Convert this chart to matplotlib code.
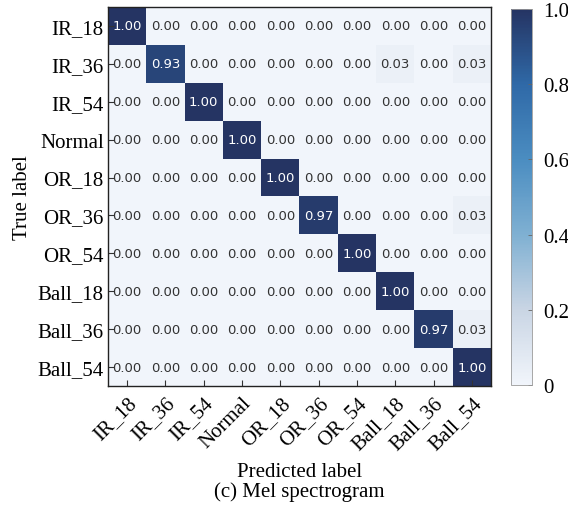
import numpy as np
import matplotlib
matplotlib.use("Agg")
import matplotlib.pyplot as plt
from matplotlib.colors import LinearSegmentedColormap

classes = ["IR_18", "IR_36", "IR_54", "Normal", "OR_18", "OR_36", "OR_54",
           "Ball_18", "Ball_36", "Ball_54"]

# normalized confusion matrix (rows = true, cols = predicted)
cm = np.array([
    [1.00, 0.00, 0.00, 0.00, 0.00, 0.00, 0.00, 0.00, 0.00, 0.00],
    [0.00, 0.93, 0.00, 0.00, 0.00, 0.00, 0.00, 0.03, 0.00, 0.03],
    [0.00, 0.00, 1.00, 0.00, 0.00, 0.00, 0.00, 0.00, 0.00, 0.00],
    [0.00, 0.00, 0.00, 1.00, 0.00, 0.00, 0.00, 0.00, 0.00, 0.00],
    [0.00, 0.00, 0.00, 0.00, 1.00, 0.00, 0.00, 0.00, 0.00, 0.00],
    [0.00, 0.00, 0.00, 0.00, 0.00, 0.97, 0.00, 0.00, 0.00, 0.03],
    [0.00, 0.00, 0.00, 0.00, 0.00, 0.00, 1.00, 0.00, 0.00, 0.00],
    [0.00, 0.00, 0.00, 0.00, 0.00, 0.00, 0.00, 1.00, 0.00, 0.00],
    [0.00, 0.00, 0.00, 0.00, 0.00, 0.00, 0.00, 0.00, 0.97, 0.03],
    [0.00, 0.00, 0.00, 0.00, 0.00, 0.00, 0.00, 0.00, 0.00, 1.00],
])

cbar_ticks = [0, 0.2, 0.4, 0.6, 0.8, 1.0]
cbar_labels = ["0", "0.2", "0.4", "0.6", "0.8", "1.0"]

serif = "Liberation Serif"
cmap = LinearSegmentedColormap.from_list(
    "mel", ["#f1f5fb", "#c9d5e4", "#7fb0d2", "#4b8dc1", "#2f69a7", "#253463"])

fig = plt.figure(figsize=(5.68, 5.10), dpi=100)
ax = fig.add_axes([108 / 568, 1 - 387 / 510, 383 / 568, 379 / 510])
cax = fig.add_axes([511 / 568, 1 - 386 / 510, 21 / 568, 376 / 510])

im = ax.imshow(cm, cmap=cmap, vmin=0, vmax=1, interpolation="nearest", aspect="auto")

# cell annotations
for i in range(cm.shape[0]):
    for j in range(cm.shape[1]):
        v = cm[i, j]
        ax.text(j, i, f"{v:.2f}", ha="center", va="center", fontsize=9.5,
                color="white" if v > 0.5 else "#333333")

n = len(classes)
ax.set_xticks(range(n))
ax.set_yticks(range(n))
ax.set_xticklabels(classes, rotation=45, ha="right", rotation_mode="anchor",
                   fontsize=15, family=serif)
ax.set_yticklabels(classes, fontsize=15, family=serif)
ax.tick_params(direction="in", length=4, width=0.8, color="#333333", pad=3)
ax.tick_params(axis="x", pad=5)
for s in ax.spines.values():
    s.set_linewidth(1.0)
    s.set_color("#222222")

ax.set_ylabel("True label", fontsize=15, family=serif, labelpad=4)
ax.set_xlabel("Predicted label", fontsize=15, family=serif, labelpad=6)
fig.text(299 / 568, 1 - 492 / 510, "(c) Mel spectrogram", ha="center", va="center",
         fontsize=15, family=serif)

cb = fig.colorbar(im, cax=cax)
cb.set_ticks(cbar_ticks)
cb.set_ticklabels(cbar_labels)
cb.outline.set_linewidth(0.6)
cb.outline.set_edgecolor("#999999")
cax.tick_params(direction="in", length=3, width=0.6, color="#666666", pad=8)
for t in cax.get_yticklabels():
    t.set_fontsize(15)
    t.set_family(serif)

fig.savefig("out.png", dpi=100)
